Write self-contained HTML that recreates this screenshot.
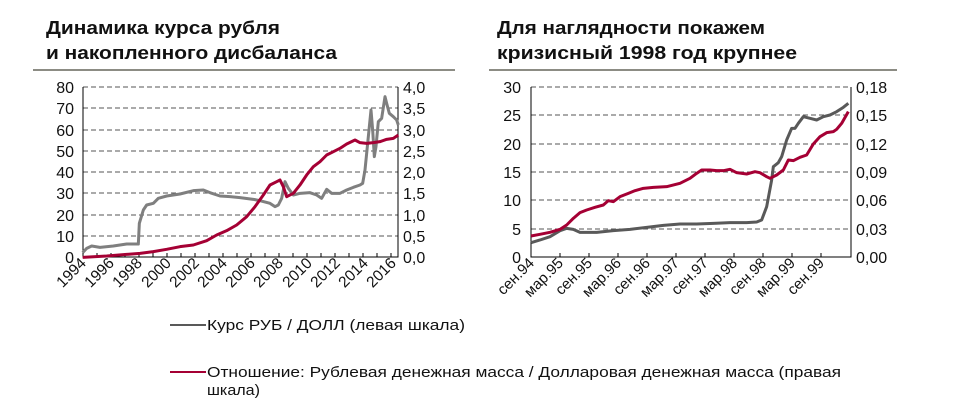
<!DOCTYPE html>
<html><head><meta charset="utf-8"><style>
body{margin:0;background:#fff}
svg{display:block;font-family:"Liberation Sans",sans-serif}
.pl{fill:none;vector-effect:non-scaling-stroke;stroke-linejoin:round}
</style></head><body>
<svg width="975" height="417" viewBox="0 0 975 417">
<g font-weight="bold" font-size="18" fill="#111">
<text x="46" y="34" textLength="234" lengthAdjust="spacingAndGlyphs">Динамика курса рубля</text>
<text x="46" y="59" textLength="291" lengthAdjust="spacingAndGlyphs">и накопленного дисбаланса</text>
<text x="497" y="34" textLength="268" lengthAdjust="spacingAndGlyphs">Для наглядности покажем</text>
<text x="497" y="59" textLength="300" lengthAdjust="spacingAndGlyphs">кризисный 1998 год крупнее</text>
</g>
<line x1="33" y1="70" x2="455" y2="70" stroke="#8c8c84" stroke-width="2"/>
<line x1="489" y1="70" x2="897" y2="70" stroke="#8c8c84" stroke-width="2"/>

<!-- left chart -->
<g stroke="#555" stroke-dasharray="5,3" stroke-width="1">
<line x1="83" y1="87" x2="398" y2="87"/><line x1="83" y1="108" x2="398" y2="108"/>
<line x1="83" y1="130" x2="398" y2="130"/><line x1="83" y1="151" x2="398" y2="151"/>
<line x1="83" y1="172" x2="398" y2="172"/><line x1="83" y1="193" x2="398" y2="193"/>
<line x1="83" y1="215" x2="398" y2="215"/><line x1="83" y1="236" x2="398" y2="236"/>
</g>
<path d="M83 87V257H398V87" fill="none" stroke="#000" stroke-width="1"/>
<path d="M97 257v-4M111 257v-4M125 257v-4M139 257v-4M153 257v-4M167 257v-4M181 257v-4M195 257v-4M209 257v-4M223 257v-4M237 257v-4M251 257v-4M265 257v-4M279 257v-4M293 257v-4M307 257v-4M321 257v-4M335 257v-4M349 257v-4M363 257v-4M377 257v-4M391 257v-4" stroke="#000" stroke-width="1"/>
<g font-size="16" fill="#111" text-anchor="end">
<text x="74" y="93">80</text><text x="74" y="114">70</text><text x="74" y="136">60</text><text x="74" y="157">50</text><text x="74" y="178">40</text><text x="74" y="199">30</text><text x="74" y="221">20</text><text x="74" y="242">10</text><text x="74" y="263">0</text>
</g>
<g font-size="16" fill="#111">
<text x="403" y="93">4,0</text><text x="403" y="114">3,5</text><text x="403" y="136">3,0</text><text x="403" y="157">2,5</text><text x="403" y="178">2,0</text><text x="403" y="199">1,5</text><text x="403" y="221">1,0</text><text x="403" y="242">0,5</text><text x="403" y="263">0,0</text>
</g>
<g transform="translate(40,70) scale(0.33333)">
<polyline class="pl" stroke="#7f7f7f" stroke-width="3" points="128,548 140,535 155,528 180,532 220,528 260,522 295,522 298,460 310,420 320,405 340,400 355,385 380,378 420,372 460,362 490,360 510,368 540,378 570,380 600,383 640,388 660,392 690,400 705,410 715,405 725,385 735,335 745,355 760,375 780,370 810,368 830,375 845,385 860,358 875,370 900,370 920,360 940,352 960,345 968,340 975,300 985,200 993,120 998,180 1003,260 1008,230 1015,155 1025,145 1035,80 1040,100 1048,130 1060,140 1070,150 1075,165"/>
<polyline class="pl" stroke="#a50034" stroke-width="3" points="128,562 200,558 300,550 340,545 380,538 420,530 460,525 500,512 530,495 560,482 590,465 620,440 645,410 670,375 690,345 710,335 720,330 730,350 740,380 760,370 780,345 800,315 820,290 840,275 860,255 880,245 900,235 920,222 945,210 960,218 980,220 1000,218 1020,215 1040,208 1060,205 1075,195"/>
</g>
<g font-size="15.5" fill="#111" text-anchor="end">
<text transform="translate(87,264) rotate(-45)">1994</text>
<text transform="translate(115,264) rotate(-45)">1996</text>
<text transform="translate(143,264) rotate(-45)">1998</text>
<text transform="translate(172,264) rotate(-45)">2000</text>
<text transform="translate(200,264) rotate(-45)">2002</text>
<text transform="translate(228,264) rotate(-45)">2004</text>
<text transform="translate(256,264) rotate(-45)">2006</text>
<text transform="translate(284,264) rotate(-45)">2008</text>
<text transform="translate(313,264) rotate(-45)">2010</text>
<text transform="translate(341,264) rotate(-45)">2012</text>
<text transform="translate(369,264) rotate(-45)">2014</text>
<text transform="translate(397,264) rotate(-45)">2016</text>
</g>

<!-- right chart -->
<g stroke="#555" stroke-dasharray="5,3" stroke-width="1">
<line x1="531" y1="87" x2="851" y2="87"/><line x1="531" y1="115" x2="851" y2="115"/>
<line x1="531" y1="144" x2="851" y2="144"/><line x1="531" y1="172" x2="851" y2="172"/>
<line x1="531" y1="200" x2="851" y2="200"/><line x1="531" y1="229" x2="851" y2="229"/>
</g>
<path d="M531 87V257H851V87" fill="none" stroke="#000" stroke-width="1"/>
<path d="M560 257v-4M589 257v-4M618 257v-4M647 257v-4M676 257v-4M705 257v-4M734 257v-4M763 257v-4M792 257v-4M821 257v-4" stroke="#000" stroke-width="1"/>
<g font-size="16" fill="#111" text-anchor="end">
<text x="521" y="93">30</text><text x="521" y="121">25</text><text x="521" y="150">20</text><text x="521" y="178">15</text><text x="521" y="206">10</text><text x="521" y="235">5</text><text x="521" y="263">0</text>
</g>
<g font-size="16" fill="#111">
<text x="856" y="93">0,18</text><text x="856" y="121">0,15</text><text x="856" y="150">0,12</text><text x="856" y="178">0,09</text><text x="856" y="206">0,06</text><text x="856" y="235">0,03</text><text x="856" y="263">0,00</text>
</g>
<g transform="translate(480,70) scale(0.33333)">
<polyline class="pl" stroke="#595959" stroke-width="3" points="153,518 180,510 210,500 240,482 260,475 280,478 300,487 350,487 400,482 450,478 500,472 550,466 600,462 650,462 700,460 750,458 800,458 830,456 845,450 860,410 875,330 880,290 895,278 905,260 920,210 935,175 945,175 955,160 970,140 990,145 1010,150 1030,140 1050,135 1070,125 1090,112 1105,100"/>
<polyline class="pl" stroke="#a50034" stroke-width="3" points="153,498 180,493 210,487 240,478 260,465 280,445 300,428 320,420 345,412 370,405 385,392 400,395 420,380 445,370 465,362 490,355 520,352 560,350 600,340 630,325 650,310 665,300 690,300 710,302 730,302 750,298 770,308 800,312 825,305 840,308 860,320 870,325 890,315 910,300 925,270 940,272 960,262 980,255 1000,222 1020,200 1040,188 1060,185 1070,178 1085,160 1105,125"/>
</g>
<g font-size="15" fill="#111" text-anchor="end">
<text transform="translate(535,264) rotate(-45)">сен.94</text>
<text transform="translate(564,264) rotate(-45)">мар.95</text>
<text transform="translate(593,264) rotate(-45)">сен.95</text>
<text transform="translate(622,264) rotate(-45)">мар.96</text>
<text transform="translate(651,264) rotate(-45)">сен.96</text>
<text transform="translate(680,264) rotate(-45)">мар.97</text>
<text transform="translate(709,264) rotate(-45)">сен.97</text>
<text transform="translate(738,264) rotate(-45)">мар.98</text>
<text transform="translate(767,264) rotate(-45)">сен.98</text>
<text transform="translate(796,264) rotate(-45)">мар.99</text>
<text transform="translate(825,264) rotate(-45)">сен.99</text>
</g>

<!-- legend -->
<line x1="170" y1="325" x2="206" y2="325" stroke="#595959" stroke-width="2"/>
<line x1="170" y1="372" x2="206" y2="372" stroke="#a50034" stroke-width="2"/>
<g font-size="15" fill="#111">
<text x="207" y="330" textLength="258" lengthAdjust="spacingAndGlyphs">Курс РУБ / ДОЛЛ (левая шкала)</text>
<text x="207" y="377" textLength="634" lengthAdjust="spacingAndGlyphs">Отношение: Рублевая денежная масса / Долларовая денежная масса (правая</text>
<text x="207" y="395" textLength="53" lengthAdjust="spacingAndGlyphs">шкала)</text>
</g>
</svg>
</body></html>
